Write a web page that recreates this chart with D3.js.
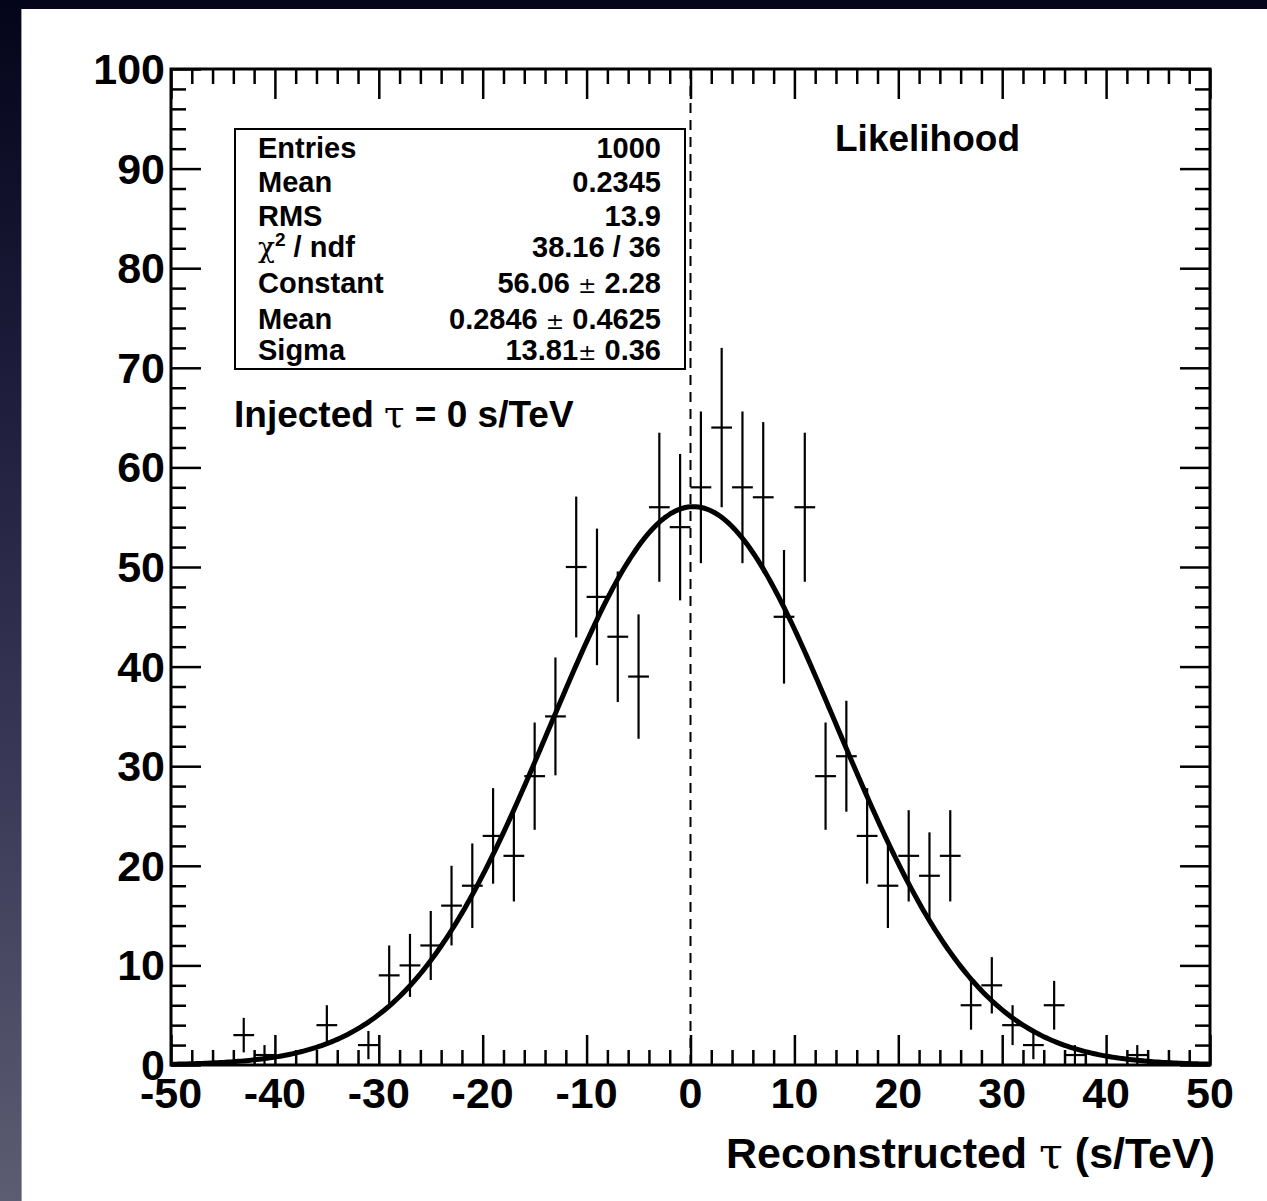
<!DOCTYPE html>
<html>
<head>
<meta charset="utf-8">
<script src="https://cdn.jsdelivr.net/npm/d3@7"></script>
<style>
  html, body { margin: 0; padding: 0; background: #ffffff; }
  svg { display: block; }
  text { font-family: "Liberation Sans", Arial, Helvetica, sans-serif; font-weight: bold; fill: #000; }
  .sym { font-family: "DejaVu Serif", "Liberation Serif", serif; font-weight: normal; }
</style>
</head>
<body>
<script>
// ---- data ----
const binCenters = [-43, -41, -35, -31, -29, -27, -25, -23, -21, -19, -17, -15, -13, -11, -9, -7, -5, -3, -1,
                    1, 3, 5, 7, 9, 11, 13, 15, 17, 19, 21, 23, 25, 27, 29, 31, 33, 35, 37, 43];
const binCounts  = [3, 1, 4, 2, 9, 10, 12, 16, 18, 23, 21, 29, 35, 50, 47, 43, 39, 56, 54,
                    58, 64, 58, 57, 45, 56, 29, 31, 23, 18, 21, 19, 21, 6, 8, 4, 2, 6, 1, 1];
const binWidth = 2;
const xDomain = [-50, 50];
const yDomain = [0, 100];
const xTickLabels = [-50, -40, -30, -20, -10, 0, 10, 20, 30, 40, 50];
const yTickLabels = [0, 10, 20, 30, 40, 50, 60, 70, 80, 90, 100];
// Gaussian fit parameters (from the stats box)
const fitConstant = 56.06;
const fitMean = 0.2846;
const fitSigma = 13.81;
const statNames  = ["Entries", "Mean", "RMS", "CHI2", "Constant", "Mean", "Sigma"];
const statValues = ["1000", "0.2345", "13.9", "38.16 / 36", "56.06 \u00B1 2.28", "0.2846 \u00B1 0.4625", "13.81\u00B1 0.36"];

// ---- layout ----
const W = 1267, H = 1201;
const L = 171, R = 1210, T = 69, B = 1065;

const svg = d3.select("body").append("svg").attr("width", W).attr("height", H);

// dark slide-like frame
const defs = svg.append("defs");
const grad = defs.append("linearGradient").attr("id", "side").attr("x1", 0).attr("y1", 0).attr("x2", 0).attr("y2", 1);
grad.append("stop").attr("offset", "0%").attr("stop-color", "#04041a");
grad.append("stop").attr("offset", "30%").attr("stop-color", "#1c1c3a");
grad.append("stop").attr("offset", "65%").attr("stop-color", "#3a3a58");
grad.append("stop").attr("offset", "100%").attr("stop-color", "#5c5c72");
svg.append("rect").attr("x", 0).attr("y", 0).attr("width", 21).attr("height", H).attr("fill", "url(#side)");
svg.append("rect").attr("x", 0).attr("y", 0).attr("width", W).attr("height", 9).attr("fill", "#04041a");
svg.append("rect").attr("x", 21).attr("y", 9).attr("width", 1).attr("height", H - 9).attr("fill", "#9a9aaa");

const x = d3.scaleLinear().domain(xDomain).range([L, R]);
const y = d3.scaleLinear().domain(yDomain).range([B, T]);

const g = svg.append("g");

// dashed line at 0
g.append("line")
  .attr("x1", x(0)).attr("x2", x(0)).attr("y1", T).attr("y2", B)
  .attr("stroke", "#000").attr("stroke-width", 2).attr("stroke-dasharray", "10,7");

// axes with ROOT-style ticks
const majorLen = 30, minorLen = 15;
function styleAxis(sel) {
  sel.select(".domain").remove();
  sel.selectAll(".tick line").attr("stroke", "#000").attr("stroke-width", 2.5);
}
const xMinor = d3.range(-50, 50.001, 2);
const yMinor = d3.range(0, 100.001, 2);
const isMajor = v => Math.abs(v % 10) < 1e-6;

// bottom
const axB = g.append("g").attr("transform", `translate(0,${B})`)
  .call(d3.axisBottom(x).tickValues(xMinor).tickSize(0).tickFormat(""));
styleAxis(axB);
axB.selectAll(".tick line").attr("y2", d => -(isMajor(d) ? majorLen : minorLen));
// top
const axT = g.append("g").attr("transform", `translate(0,${T})`)
  .call(d3.axisTop(x).tickValues(xMinor).tickSize(0).tickFormat(""));
styleAxis(axT);
axT.selectAll(".tick line").attr("y2", d => (isMajor(d) ? majorLen : minorLen));
// left
const axL = g.append("g").attr("transform", `translate(${L},0)`)
  .call(d3.axisLeft(y).tickValues(yMinor).tickSize(0).tickFormat(""));
styleAxis(axL);
axL.selectAll(".tick line").attr("x2", d => (isMajor(d) ? majorLen : minorLen));
// right
const axR = g.append("g").attr("transform", `translate(${R},0)`)
  .call(d3.axisRight(y).tickValues(yMinor).tickSize(0).tickFormat(""));
styleAxis(axR);
axR.selectAll(".tick line").attr("x2", d => -(isMajor(d) ? majorLen : minorLen));

// frame
g.append("rect").attr("x", L).attr("y", T).attr("width", R - L).attr("height", B - T)
  .attr("fill", "none").attr("stroke", "#000").attr("stroke-width", 3);

// tick labels
g.selectAll("text.xl").data(xTickLabels).enter().append("text")
  .attr("class", "xl")
  .attr("x", d => x(d)).attr("y", B + 43)
  .attr("text-anchor", "middle").attr("font-size", 43)
  .text(d => d);
g.selectAll("text.yl").data(yTickLabels).enter().append("text")
  .attr("class", "yl")
  .attr("x", L - 6).attr("y", d => y(d) + 15)
  .attr("text-anchor", "end").attr("font-size", 43)
  .text(d => d);

// error bars (histogram with sqrt(N) errors)
const bins = binCenters.map((c, i) => ({ c: c, n: binCounts[i] }));
const eb = g.append("g").attr("stroke", "#000").attr("stroke-width", 2.2);
eb.selectAll("line.h").data(bins).enter().append("line")
  .attr("x1", d => x(d.c - binWidth / 2)).attr("x2", d => x(d.c + binWidth / 2))
  .attr("y1", d => y(d.n)).attr("y2", d => y(d.n));
eb.selectAll("line.v").data(bins).enter().append("line")
  .attr("x1", d => x(d.c)).attr("x2", d => x(d.c))
  .attr("y1", d => y(Math.max(0, d.n - Math.sqrt(d.n)))).attr("y2", d => y(d.n + Math.sqrt(d.n)));

// fitted Gaussian
const fitX = d3.range(-50, 50.0001, 0.25);
const line = d3.line().x(d => x(d)).y(d => y(fitConstant * Math.exp(-0.5 * Math.pow((d - fitMean) / fitSigma, 2))));
g.append("path").datum(fitX).attr("d", line)
  .attr("fill", "none").attr("stroke", "#000").attr("stroke-width", 5).attr("stroke-linejoin", "round");

// stats box
const bx0 = 235, bx1 = 685, by0 = 129, by1 = 369;
g.append("rect").attr("x", bx0).attr("y", by0).attr("width", bx1 - bx0).attr("height", by1 - by0)
  .attr("fill", "#fff").attr("stroke", "#000").attr("stroke-width", 2);
const rowY = [158, 192, 226, 257, 293, 329, 360];
statNames.forEach((nm, i) => {
  const t = g.append("text").attr("x", 258).attr("y", rowY[i]).attr("font-size", 29);
  if (nm === "CHI2") {
    t.append("tspan").attr("class", "sym").attr("font-size", 28).text("\u03C7");
    t.append("tspan").attr("font-size", 19).attr("dy", -11).text("2");
    t.append("tspan").attr("dy", 11).text(" / ndf");
  } else {
    t.text(nm);
  }
  const v = g.append("text").attr("x", 661).attr("y", rowY[i]).attr("font-size", 29).attr("text-anchor", "end");
  const parts = statValues[i].split("\u00B1");
  if (parts.length === 2) {
    v.append("tspan").text(parts[0]);
    v.append("tspan").attr("class", "sym").attr("font-size", 22).text("\u00B1");
    v.append("tspan").text(parts[1]);
  } else {
    v.text(statValues[i]);
  }
});

// annotations
g.append("text").attr("x", 835).attr("y", 151).attr("font-size", 37).text("Likelihood");
const inj = g.append("text").attr("x", 234).attr("y", 427).attr("font-size", 37);
inj.append("tspan").text("Injected ");
inj.append("tspan").attr("class", "sym").text("\u03C4");
inj.append("tspan").text(" = 0 s/TeV");

const xt = g.append("text").attr("x", 1215).attr("y", 1168).attr("font-size", 43).attr("text-anchor", "end");
xt.append("tspan").text("Reconstructed ");
xt.append("tspan").attr("class", "sym").text("\u03C4");
xt.append("tspan").text(" (s/TeV)");
</script>
</body>
</html>
